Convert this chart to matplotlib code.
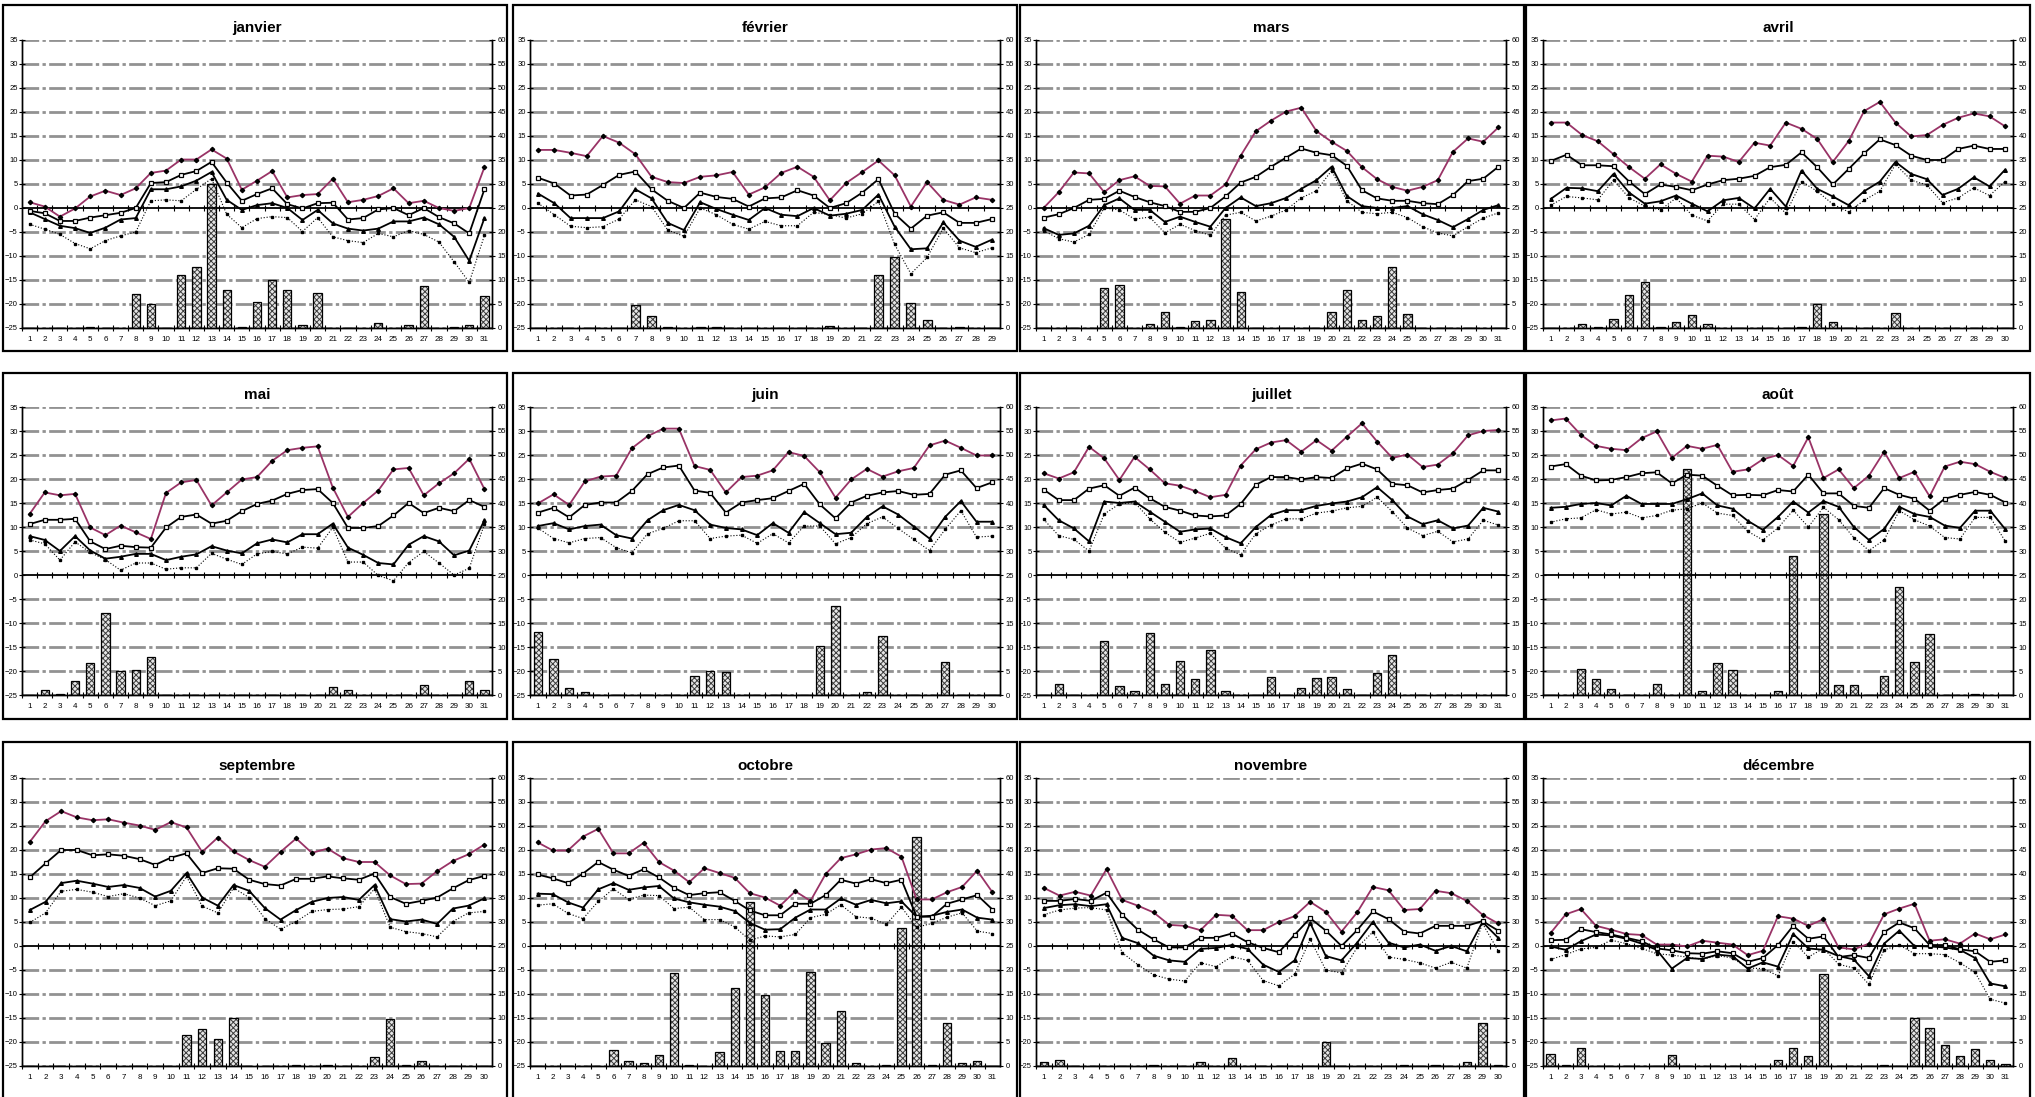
import matplotlib
matplotlib.use('Agg')
import matplotlib.pyplot as plt
from matplotlib.patches import Rectangle

plt.rcParams['font.family'] = ['Liberation Sans', 'DejaVu Sans']
plt.rcParams['hatch.linewidth'] = 0.7

mois = ['janvier', 'février', 'mars', 'avril', 'mai', 'juin',
        'juillet', 'août', 'septembre', 'octobre', 'novembre', 'décembre']

# températures (°C) : max absolu, moyenne haute, moyenne, min ; pluie (mm)
jan_max = [1.2, 0.3, -1.8, -0.1, 2.4, 3.6, 2.7, 4.1, 7.3, 7.8, 10.1, 10.1, 12.2, 10.3, 3.8, 5.7, 7.7, 2.2, 2.7, 2.9, 6.1, 1.2, 1.7, 2.5, 4.1, 1.0, 1.5, 0.0, -0.6, 0.0, 8.5]
jan_haut = [-0.6, -1.1, -2.7, -2.7, -2.0, -1.5, -1.0, 0.0, 5.2, 5.4, 6.9, 7.7, 9.6, 5.3, 1.5, 2.9, 4.1, 0.8, -0.1, 1.0, 1.1, -2.4, -2.1, -0.3, 0.0, -1.5, 0.0, -1.9, -3.2, -5.3, 3.9]
jan_moy = [-0.9, -2.3, -3.7, -4.2, -5.2, -4.1, -2.4, -2.1, 3.9, 3.9, 4.5, 5.7, 7.5, 1.7, -0.4, 0.6, 1.0, 0.0, -2.5, -0.4, -3.2, -4.3, -4.7, -4.3, -2.8, -2.8, -2.0, -3.4, -6.0, -11.0, -2.1]
jan_min = [-3.4, -4.4, -5.5, -7.4, -8.5, -6.8, -5.8, -5.0, 1.5, 1.7, 1.5, 3.9, 6.1, -1.3, -4.1, -2.2, -1.8, -2.0, -4.9, -2.0, -6.0, -6.8, -7.2, -5.3, -6.0, -4.7, -5.5, -7.1, -11.2, -15.5, -5.7]
jan_pluie = [0, 0, 0, 0, 0.3, 0, 0, 7.1, 4.9, 0, 11.1, 12.8, 30.1, 7.9, 0.3, 5.5, 10.0, 7.9, 0.6, 7.3, 0, 0, 0, 1.0, 0, 0.6, 8.8, 0, 0.2, 0.6, 6.7]

fev_max = [12.1, 12.1, 11.5, 10.8, 15.0, 13.6, 11.2, 6.5, 5.4, 5.2, 6.5, 6.8, 7.5, 2.8, 4.3, 7.3, 8.6, 6.5, 1.6, 5.2, 7.5, 9.9, 6.8, 0.3, 5.4, 1.7, 0.7, 2.2, 1.7]
fev_haut = [6.3, 5.1, 2.6, 2.8, 4.8, 6.9, 7.6, 3.9, 1.5, 0.0, 3.2, 2.3, 1.9, 0.3, 2.0, 2.2, 3.7, 2.6, 0.0, 1.0, 3.2, 6.0, -1.2, -4.3, -1.6, -0.9, -3.1, -3.1, -2.3]
fev_moy = [3.0, 1.0, -2.1, -2.1, -2.1, -0.7, 3.9, 2.0, -3.1, -4.6, 1.2, -0.2, -1.4, -2.5, 0.0, -1.4, -1.7, 0.0, -1.6, -1.2, -0.4, 2.8, -3.9, -8.6, -8.4, -3.0, -6.8, -8.1, -6.6]
fev_min = [1.0, -1.4, -3.8, -4.1, -3.9, -2.3, 1.7, 0.3, -4.6, -5.9, 0.0, -1.4, -3.4, -4.4, -2.8, -3.7, -3.7, -0.9, -1.4, -2.1, -1.2, 1.4, -7.6, -13.7, -10.3, -4.2, -8.3, -9.3, -8.3]
fev_pluie = [0, 0, 0, 0, 0, 0, 4.8, 2.4, 0.3, 0, 0.3, 0.3, 0, 0, 0, 0, 0, 0, 0.5, 0, 0, 11.1, 14.7, 5.3, 1.6, 0, 0.3, 0, 0]

mar_max = [0.0, 3.3, 7.4, 7.2, 3.3, 5.8, 6.6, 4.6, 4.5, 0.9, 2.6, 2.6, 4.9, 10.9, 16.0, 18.2, 20.1, 20.9, 16.0, 13.8, 11.9, 8.5, 6.0, 4.4, 3.6, 4.4, 5.8, 11.7, 14.5, 13.8, 16.8]
mar_haut = [-2.0, -1.3, 0.0, 1.7, 1.9, 3.6, 2.3, 1.2, 0.4, -0.8, -0.8, 0.0, 2.4, 5.3, 6.5, 8.6, 10.5, 12.4, 11.5, 11.0, 8.8, 3.7, 2.0, 1.5, 1.5, 1.0, 0.8, 2.7, 5.6, 6.1, 8.6]
mar_moy = [-4.2, -5.6, -5.3, -3.7, 0.6, 2.0, -0.4, -0.4, -2.9, -1.8, -2.9, -3.9, 0.0, 2.2, 0.4, 1.0, 2.1, 4.0, 5.8, 8.6, 2.5, 0.4, 0.0, 0.0, 0.4, -1.3, -2.5, -4.0, -2.3, -0.4, 0.6]
mar_min = [-4.7, -6.4, -7.1, -5.5, 0.0, -0.4, -2.3, -1.9, -5.2, -3.4, -4.7, -5.7, -1.5, -0.9, -2.7, -1.7, -0.4, 2.1, 3.6, 7.8, 1.5, -0.9, -1.2, -0.9, -2.0, -3.9, -5.2, -5.8, -3.9, -2.1, -1.0]
mar_pluie = [0, 0, 0, 0, 8.4, 9.0, 0, 0.8, 3.3, 0.3, 1.4, 1.7, 22.7, 7.6, 0, 0.1, 0, 0, 0, 3.3, 7.9, 1.7, 2.5, 12.8, 3.0, 0, 0, 0, 0, 0, 0]

avr_max = [17.8, 17.8, 15.2, 13.9, 11.2, 8.5, 6.1, 9.1, 7.1, 5.5, 10.9, 10.7, 9.6, 13.6, 13.0, 17.8, 16.5, 14.4, 9.6, 13.9, 20.2, 22.1, 17.8, 14.9, 15.2, 17.3, 18.8, 19.7, 19.1, 17.0]
avr_haut = [9.8, 11.1, 8.9, 8.9, 8.7, 5.5, 2.9, 4.9, 4.4, 3.7, 4.9, 5.8, 6.1, 6.7, 8.5, 9.0, 11.6, 8.5, 4.9, 8.1, 11.4, 14.3, 13.1, 10.9, 10.0, 10.0, 12.3, 13.0, 12.3, 12.3]
avr_moy = [1.9, 4.2, 4.1, 3.5, 7.1, 3.2, 0.9, 1.4, 2.6, 0.9, -0.7, 1.6, 2.1, -0.1, 4.0, 0.3, 7.8, 4.0, 2.4, 0.6, 3.5, 5.5, 9.6, 7.1, 6.0, 2.7, 4.0, 6.4, 4.5, 8.0]
avr_min = [0.6, 2.4, 2.1, 1.7, 5.8, 2.1, 0.4, -0.4, 2.1, -1.5, -2.7, 0.8, 0.8, -2.4, 2.1, -1.1, 5.5, 3.5, 0.8, -0.8, 1.6, 3.5, 9.1, 5.8, 4.8, 1.1, 2.1, 4.2, 2.6, 5.5]
avr_pluie = [0, 0, 0.8, 0.2, 1.9, 6.9, 9.6, 0.2, 1.3, 2.8, 0.8, 0, 0, 0, 0, 0, 0.2, 5.0, 1.2, 0, 0, 0, 3.1, 0, 0, 0, 0, 0, 0, 0]

mai_max = [12.7, 17.2, 16.6, 16.9, 9.9, 8.3, 10.3, 8.9, 7.5, 17.1, 19.3, 19.8, 14.5, 17.2, 19.9, 20.4, 23.8, 26.0, 26.5, 26.8, 18.2, 12.1, 15.0, 17.6, 22.0, 22.3, 16.6, 19.1, 21.2, 24.2, 17.9]
mai_haut = [10.6, 11.5, 11.5, 11.7, 7.0, 5.4, 6.1, 5.8, 5.7, 9.9, 12.1, 12.6, 10.7, 11.3, 13.3, 14.8, 15.5, 16.9, 17.7, 17.9, 15.0, 9.8, 9.8, 10.2, 12.4, 15.0, 12.9, 14.0, 13.3, 15.6, 14.2]
mai_moy = [8.1, 7.3, 5.0, 8.1, 5.1, 3.4, 3.8, 4.4, 4.4, 3.1, 3.8, 4.3, 6.0, 5.1, 4.5, 6.6, 7.4, 6.8, 8.5, 8.5, 10.7, 5.7, 4.2, 2.5, 2.2, 6.3, 8.1, 7.0, 4.1, 5.1, 11.4]
mai_min = [7.3, 6.5, 3.1, 6.9, 4.7, 3.2, 1.0, 2.5, 2.5, 1.2, 1.5, 1.5, 4.5, 3.3, 2.2, 4.4, 4.9, 4.4, 5.8, 5.6, 9.9, 2.7, 2.7, -0.1, -1.2, 2.6, 4.9, 2.5, 0.0, 1.4, 10.6]
mai_pluie = [0, 1.0, 0.3, 2.9, 6.6, 17.0, 4.9, 5.2, 7.9, 0, 0, 0, 0, 0, 0, 0, 0, 0, 0, 0, 1.7, 1.0, 0, 0, 0, 0, 2.0, 0, 0, 2.9, 1.0]

jun_max = [14.9, 16.8, 14.6, 19.5, 20.5, 20.7, 26.4, 28.9, 30.5, 30.5, 22.7, 21.9, 17.2, 20.4, 20.7, 21.8, 25.6, 24.8, 21.4, 16.1, 19.9, 22.1, 20.5, 21.6, 22.3, 27.0, 28.0, 26.5, 24.9, 24.9]
jun_haut = [13.0, 14.0, 12.0, 14.6, 15.1, 15.1, 17.5, 21.0, 22.4, 22.8, 17.6, 17.1, 13.0, 15.1, 15.6, 16.0, 17.5, 19.0, 14.7, 11.8, 15.1, 16.5, 17.2, 17.5, 16.7, 16.9, 20.9, 21.8, 18.1, 19.3]
jun_moy = [10.2, 10.8, 9.5, 10.2, 10.5, 8.3, 7.6, 11.4, 13.5, 14.6, 13.5, 10.5, 9.8, 9.5, 8.3, 10.8, 8.8, 13.1, 10.8, 8.5, 8.8, 12.1, 14.3, 12.6, 10.1, 7.6, 12.1, 15.4, 11.1, 11.1]
jun_min = [9.8, 7.6, 6.7, 7.6, 7.8, 5.7, 4.6, 8.6, 9.7, 11.3, 11.3, 7.6, 8.1, 8.3, 6.6, 8.6, 6.7, 10.2, 10.2, 6.5, 7.8, 10.7, 12.1, 9.7, 7.4, 5.1, 9.5, 13.4, 7.9, 8.1]
jun_pluie = [13.2, 7.6, 1.5, 0.7, 0, 0, 0, 0, 0, 0, 4.0, 4.9, 4.7, 0, 0, 0, 0, 0, 10.3, 18.6, 0, 0.7, 12.3, 0, 0, 0, 6.9, 0, 0, 0]

jul_max = [21.2, 20.1, 21.4, 26.7, 24.3, 19.8, 24.6, 22.0, 19.1, 18.6, 17.5, 16.2, 16.7, 22.8, 26.2, 27.6, 28.1, 25.7, 28.1, 25.9, 28.8, 31.6, 27.8, 24.4, 25.1, 22.5, 23.0, 25.4, 29.1, 30.0, 30.2]
jul_haut = [17.8, 15.6, 15.6, 18.0, 18.7, 16.5, 18.2, 16.0, 14.2, 13.4, 12.4, 12.2, 12.4, 14.8, 18.8, 20.4, 20.4, 19.9, 20.4, 20.2, 22.2, 23.2, 22.0, 19.0, 18.7, 17.2, 17.7, 18.0, 19.8, 21.8, 21.8]
jul_moy = [14.6, 11.4, 9.7, 7.0, 15.3, 15.0, 15.3, 13.2, 11.1, 9.0, 9.5, 9.7, 7.9, 6.6, 10.0, 12.5, 13.5, 13.5, 14.4, 14.9, 15.3, 16.2, 18.3, 15.6, 12.2, 10.6, 11.4, 9.7, 10.3, 14.0, 13.2]
jul_min = [11.6, 8.2, 7.4, 5.0, 12.7, 14.8, 15.1, 11.7, 8.9, 6.8, 7.7, 8.7, 5.6, 4.2, 8.6, 10.4, 11.7, 11.7, 12.9, 13.3, 14.0, 14.3, 16.2, 13.2, 9.8, 8.2, 9.1, 6.9, 7.5, 11.4, 10.4]
jul_pluie = [0, 2.3, 0, 0, 11.3, 1.9, 0.9, 13.0, 2.3, 7.1, 3.4, 9.4, 0.9, 0, 0, 3.8, 0, 1.5, 3.6, 3.8, 1.2, 0, 4.6, 8.4, 0, 0, 0, 0, 0, 0, 0]

aou_max = [32.2, 32.6, 29.2, 26.9, 26.3, 26.0, 28.5, 29.9, 24.4, 26.9, 26.3, 27.1, 21.5, 22.0, 24.1, 25.0, 22.7, 28.7, 20.2, 22.0, 18.1, 20.7, 25.7, 20.2, 21.5, 16.4, 22.6, 23.6, 23.1, 21.5, 20.2]
aou_haut = [22.6, 23.1, 20.7, 19.7, 19.8, 20.4, 21.2, 21.4, 19.1, 20.9, 20.7, 18.6, 16.6, 16.7, 16.6, 17.7, 17.4, 20.9, 17.0, 17.0, 14.4, 14.0, 18.1, 16.7, 15.9, 13.4, 15.9, 16.7, 17.3, 16.7, 15.1]
aou_moy = [14.0, 14.2, 14.8, 15.0, 14.5, 16.5, 14.8, 14.8, 14.8, 15.8, 17.0, 14.5, 13.8, 11.3, 9.4, 12.1, 15.3, 13.0, 15.4, 14.2, 10.0, 7.3, 9.6, 14.2, 12.7, 12.1, 10.3, 9.8, 13.4, 13.4, 9.5]
aou_min = [11.0, 11.7, 11.9, 13.6, 12.7, 13.1, 11.9, 12.4, 13.5, 13.8, 15.0, 12.9, 12.4, 9.1, 7.3, 9.8, 13.5, 10.0, 14.1, 11.5, 7.8, 5.1, 7.3, 13.4, 11.5, 10.2, 7.8, 7.5, 12.0, 12.0, 7.0]
aou_pluie = [0, 0, 5.4, 3.3, 1.2, 0, 0, 2.3, 0, 47.1, 0.9, 6.6, 5.2, 0, 0, 0.9, 29.0, 0, 37.8, 2.0, 2.0, 0, 3.9, 22.5, 6.8, 12.7, 0, 0, 0.3, 0, 0]

sep_max = [21.7, 26.0, 28.1, 26.8, 26.2, 26.4, 25.7, 25.1, 24.2, 25.8, 24.7, 19.6, 22.6, 19.7, 17.9, 16.5, 19.6, 22.4, 19.4, 20.3, 18.3, 17.5, 17.5, 14.7, 12.9, 13.0, 15.6, 17.7, 19.1, 21.1]
sep_haut = [14.3, 17.2, 20.0, 20.0, 18.9, 19.1, 18.8, 18.1, 16.9, 18.4, 19.3, 15.2, 16.2, 16.1, 13.8, 12.9, 12.6, 14.0, 14.0, 14.5, 14.1, 13.8, 15.1, 10.2, 8.8, 9.4, 10.1, 12.0, 13.7, 14.6]
sep_moy = [7.5, 9.2, 13.1, 13.6, 13.0, 12.3, 12.7, 12.1, 10.3, 11.5, 15.2, 10.1, 8.4, 12.7, 11.5, 7.9, 5.5, 7.5, 9.2, 10.0, 10.2, 9.6, 12.7, 5.6, 5.1, 5.5, 4.6, 7.8, 8.4, 9.9]
sep_min = [4.9, 6.9, 11.4, 11.8, 11.2, 10.3, 10.9, 10.0, 8.4, 9.4, 14.5, 8.3, 6.9, 12.1, 10.1, 5.7, 3.5, 5.1, 7.2, 7.6, 7.7, 8.2, 11.9, 3.9, 3.0, 2.6, 1.9, 5.1, 6.9, 7.2]
sep_pluie = [0, 0, 0, 0, 0, 0, 0, 0, 0, 0, 6.5, 7.7, 5.7, 10.0, 0, 0, 0, 0.3, 0, 0.2, 0, 0, 1.9, 9.7, 0.3, 1.0, 0, 0, 0, 0]

oct_max = [21.6, 19.9, 19.9, 22.8, 24.4, 19.3, 19.3, 21.5, 17.5, 15.7, 13.3, 16.2, 15.2, 14.2, 11.0, 10.1, 8.4, 11.4, 9.4, 15.0, 18.3, 19.1, 20.1, 20.4, 18.6, 9.7, 9.7, 11.2, 12.3, 15.7, 11.2]
oct_haut = [14.9, 14.1, 13.1, 15.1, 17.5, 15.9, 14.6, 16.0, 14.3, 12.1, 10.6, 11.0, 11.2, 9.4, 7.4, 6.4, 6.4, 8.8, 8.8, 10.6, 13.8, 13.0, 13.9, 13.1, 13.8, 6.1, 6.1, 8.8, 9.7, 10.6, 7.6]
oct_moy = [10.9, 10.8, 9.1, 8.0, 11.8, 13.1, 11.7, 12.2, 12.5, 9.9, 9.1, 8.6, 8.2, 7.3, 4.8, 3.4, 3.5, 5.9, 7.6, 7.6, 9.9, 8.6, 9.6, 8.9, 9.3, 6.1, 6.3, 7.1, 7.6, 5.9, 5.5]
oct_min = [8.5, 8.8, 6.8, 5.7, 9.3, 11.9, 9.7, 10.6, 10.5, 7.8, 8.1, 5.5, 5.5, 4.0, 1.2, 2.1, 1.9, 2.4, 5.9, 6.6, 8.6, 6.1, 5.8, 4.5, 8.1, 3.9, 4.7, 6.0, 6.9, 3.1, 2.6]
oct_pluie = [0, 0, 0, 0, 0, 3.4, 1.0, 0.7, 2.2, 19.3, 0.3, 0, 3.0, 16.2, 34.1, 14.8, 3.1, 3.1, 19.6, 4.8, 11.5, 0.7, 0, 0.3, 28.8, 47.8, 0.3, 9.0, 0.7, 1.0, 0]

nov_max = [12.1, 10.5, 11.3, 10.5, 16.0, 9.6, 8.4, 7.0, 4.4, 4.2, 3.3, 6.5, 6.3, 3.3, 3.3, 5.0, 6.2, 9.2, 7.1, 3.0, 7.0, 12.3, 11.6, 7.5, 7.7, 11.5, 11.0, 9.4, 6.5, 4.7]
nov_haut = [9.4, 9.4, 9.8, 9.4, 11.1, 6.5, 3.4, 1.4, -0.3, -0.3, 1.7, 1.7, 2.6, 0.8, -0.4, -1.3, 2.3, 5.8, 3.2, 0.0, 3.3, 7.2, 5.6, 3.0, 2.6, 4.2, 4.2, 4.2, 5.2, 3.2]
nov_moy = [7.9, 8.5, 8.7, 8.3, 8.7, 1.7, 0.6, -2.0, -3.0, -3.3, -0.6, -0.4, 0.2, -0.6, -3.9, -5.4, -3.0, 4.8, -2.1, -3.0, 0.7, 5.0, 0.7, -0.3, 0.3, -1.0, 0.0, -1.1, 5.0, 1.7]
nov_min = [6.5, 7.5, 7.9, 8.0, 7.5, -1.4, -3.9, -6.0, -6.9, -7.3, -3.5, -4.3, -2.2, -3.0, -7.2, -8.3, -5.9, 1.4, -5.0, -5.6, -0.3, 2.9, -2.3, -2.8, -3.5, -4.6, -3.4, -4.6, 4.7, -1.0]
nov_pluie = [0.8, 1.2, 0, 0, 0, 0, 0, 0.2, 0, 0, 0.8, 0, 1.6, 0, 0, 0, 0, 0, 4.9, 0, 0, 0, 0, 0.2, 0, 0.2, 0, 0.8, 9.0, 0.2]

dec_max = [2.7, 6.6, 7.7, 4.2, 3.4, 2.5, 2.3, 0.3, 0.3, -0.1, 1.1, 0.7, 0.3, -1.9, -1.0, 6.2, 5.7, 4.2, 5.6, -0.3, -0.7, 0.5, 6.6, 7.8, 8.8, 1.1, 1.4, 0.5, 2.6, 1.4, 2.4]
dec_haut = [1.2, 1.3, 3.5, 2.9, 2.4, 1.7, 1.0, -0.5, -0.9, -1.5, -1.6, -1.1, -1.5, -3.3, -2.5, 0.2, 4.2, 1.5, 2.0, -2.3, -1.9, -2.5, 2.9, 4.9, 3.7, 0.2, 0.2, -0.7, -1.1, -3.3, -3.0]
dec_moy = [-0.1, -0.8, 1.0, 2.4, 2.2, 1.5, 0.5, -0.8, -4.7, -2.5, -2.7, -1.8, -2.1, -4.7, -3.4, -4.3, 2.5, -0.5, -0.8, -2.1, -2.8, -6.3, 0.5, 3.2, 0.0, -0.1, -0.3, -0.8, -2.5, -7.8, -8.4]
dec_min = [-2.8, -1.8, -0.6, -0.3, 1.2, 0.5, -0.5, -1.6, -1.9, -2.3, -2.8, -2.0, -2.5, -4.6, -4.7, -6.2, 0.9, -2.3, -0.5, -3.8, -4.6, -8.0, -0.8, 0.2, -1.6, -1.6, -1.8, -3.5, -5.5, -11.1, -11.9]
dec_pluie = [2.5, 0.2, 3.8, 0, 0, 0, 0, 0, 2.3, 0, 0, 0, 0, 0, 0, 1.3, 3.8, 2.0, 19.2, 0, 0, 0, 0.2, 0, 9.9, 8.0, 4.4, 2.0, 3.6, 1.3, 0.5]

t_max = [jan_max, fev_max, mar_max, avr_max, mai_max, jun_max, jul_max, aou_max, sep_max, oct_max, nov_max, dec_max]
t_haut = [jan_haut, fev_haut, mar_haut, avr_haut, mai_haut, jun_haut, jul_haut, aou_haut, sep_haut, oct_haut, nov_haut, dec_haut]
t_moy = [jan_moy, fev_moy, mar_moy, avr_moy, mai_moy, jun_moy, jul_moy, aou_moy, sep_moy, oct_moy, nov_moy, dec_moy]
t_min = [jan_min, fev_min, mar_min, avr_min, mai_min, jun_min, jul_min, aou_min, sep_min, oct_min, nov_min, dec_min]
pluie = [jan_pluie, fev_pluie, mar_pluie, avr_pluie, mai_pluie, jun_pluie, jul_pluie, aou_pluie, sep_pluie, oct_pluie, nov_pluie, dec_pluie]

W, H = 2035, 1097
fig = plt.figure(figsize=(W / 100, H / 100), dpi=100)

# positions en pixels (cadres et zones de tracé)
cadre_x = [3, 513, 1020, 1526]
cadre_y = [5, 373, 742]
cadre_h = [346, 346, 380]
zone_x = [22, 530, 1036, 1543]
zone_y = [40, 407, 778]
ZW, ZH = 470, 288

for i, nom in enumerate(mois):
    r, c = divmod(i, 4)
    n = len(t_max[i])
    jours = list(range(1, n + 1))

    fig.add_artist(Rectangle((cadre_x[c] / W, 1 - (cadre_y[r] + cadre_h[r]) / H),
                             504 / W, cadre_h[r] / H, transform=fig.transFigure,
                             fill=False, ec='black', lw=1.6))

    ax = fig.add_axes([zone_x[c] / W, 1 - (zone_y[r] + ZH) / H, ZW / W, ZH / H])
    ax2 = ax.twinx()
    ax.set_zorder(ax2.get_zorder() + 1)
    ax.patch.set_visible(False)
    ax2.patch.set_visible(True)
    ax2.patch.set_facecolor('white')

    # grille pointillée grise (échelle de droite alignée sur celle de gauche)
    for v in range(0, 61, 5):
        if v != 25:
            ax2.axhline(v, color='#929292', lw=2.0,
                        ls=(0, (6, 1.2, 1.2, 1.2)), zorder=0)

    # précipitations
    ax2.bar(jours, pluie[i], width=0.55, color='#e6e6e6', hatch='xxxxxx',
            edgecolor='#3c3c3c', linewidth=0, zorder=2)
    ax2.bar(jours, pluie[i], width=0.55, fill=False, edgecolor='black',
            linewidth=0.9, zorder=3)

    # ligne du zéro
    ax.axhline(0, color='black', lw=1.3, zorder=1)
    ax.plot([d + 0.5 for d in jours[:-1]], [0] * (n - 1), ls='none',
            marker='|', ms=4, mew=0.8, color='black', zorder=1)

    ax.plot(jours, t_min[i], color='black', lw=0.8, ls=':',
            marker='s', ms=1.8, zorder=3)
    ax.plot(jours, t_moy[i], color='black', lw=1.3,
            marker='^', ms=2.6, zorder=4)
    ax.plot(jours, t_haut[i], color='black', lw=1.3,
            marker='s', ms=3.0, mfc='white', mec='black', mew=0.9, zorder=5)
    ax.plot(jours, t_max[i], color='#993366', lw=1.3,
            marker='D', ms=2.2, mfc='black', mec='black', zorder=6)

    ax.set_xlim(0.5, n + 0.5)
    ax.set_ylim(-25, 35)
    ax2.set_ylim(0, 60)
    ax.set_yticks(range(-25, 36, 5))
    ax2.set_yticks(range(0, 61, 5))
    ax.set_xticks(jours)
    ax.set_xticks([d + 0.5 for d in range(n)], minor=True)

    ax.tick_params(axis='x', which='major', length=0, pad=6, labelsize=5.8)
    ax.tick_params(axis='x', which='minor', length=4, direction='inout', width=0.8)
    ax.tick_params(axis='y', length=4, direction='inout', width=0.8, labelsize=5.5, pad=1)
    ax2.tick_params(axis='y', length=4, direction='inout', width=0.8, labelsize=5.5, pad=2)

    for a in (ax, ax2):
        a.spines['top'].set_visible(False)
        for s in ('left', 'right', 'bottom'):
            a.spines[s].set_linewidth(1.0)
            a.spines[s].set_color('black')

    ax.set_title(nom, fontsize=11, fontweight='bold', pad=6)

fig.savefig('out.png', dpi=100)
